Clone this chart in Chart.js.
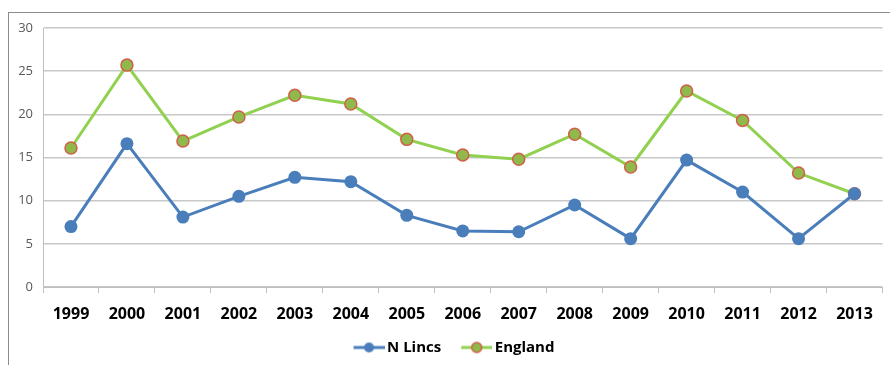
<!DOCTYPE html>
<html>
<head>
<meta charset="utf-8">
<script src="https://cdn.jsdelivr.net/npm/chart.js@4"></script>
<style>
  body { margin: 0; background: #fff; }
  #wrap { position: relative; width: 890px; height: 365px; }
  #frame { position: absolute; left: 8px; top: 12px; right: 0; bottom: 0;
    border-top: 1px solid #8c8c8c; border-left: 1px solid #8c8c8c; pointer-events: none; }
</style>
</head>
<body>
<div id="wrap">
  <canvas id="lineChart" width="890" height="365"></canvas>
  <div id="frame"></div>
</div>
<script>
(() => {
  'use strict'

  const years = ['1999', '2000', '2001', '2002', '2003', '2004', '2005', '2006',
    '2007', '2008', '2009', '2010', '2011', '2012', '2013']
  const nLincs = [7.0, 16.6, 8.1, 10.5, 12.7, 12.2, 8.3, 6.5, 6.4, 9.5, 5.6, 14.7, 11.0, 5.6, 10.8]
  const england = [16.1, 25.7, 16.9, 19.7, 22.2, 21.2, 17.1, 15.3, 14.8, 17.7, 13.9, 22.7, 19.3, 13.2, 10.8]
  const yTicks = [0, 5, 10, 15, 20, 25, 30]

  const blue = '#4a7ebb'
  const green = '#92d050'
  const dotGreen = '#8fb94b'
  const dotRed = '#d0604a'

  // line + marker swatch for the legend (transparent margin on the left)
  function swatch (line, fill, stroke) {
    const c = document.createElement('canvas')
    c.width = 46
    c.height = 14
    const g = c.getContext('2d')
    g.strokeStyle = line
    g.lineWidth = 3
    g.beginPath()
    g.moveTo(15, 7)
    g.lineTo(46, 7)
    g.stroke()
    g.fillStyle = fill
    g.beginPath()
    g.arc(30.5, 7, 5, 0, Math.PI * 2)
    g.fill()
    if (stroke) {
      g.strokeStyle = stroke
      g.lineWidth = 1.5
      g.stroke()
    }
    return c
  }
  const swatches = [swatch(blue, blue), swatch(green, dotGreen, dotRed)]

  const ctx = document.getElementById('lineChart')
  // eslint-disable-next-line no-unused-vars
  const lineChart = new Chart(ctx, {
    type: 'line',
    data: {
      labels: years,
      datasets: [
        {
          label: 'N Lincs',
          data: nLincs,
          borderColor: blue,
          backgroundColor: blue,
          borderWidth: 3,
          pointRadius: 6.5,
          pointBackgroundColor: blue,
          pointBorderColor: blue,
          pointBorderWidth: 0,
          tension: 0
        },
        {
          label: 'England',
          data: england,
          borderColor: green,
          backgroundColor: green,
          borderWidth: 3,
          pointRadius: 6,
          pointBackgroundColor: dotGreen,
          pointBorderColor: dotRed,
          pointBorderWidth: 1.5,
          tension: 0
        }
      ]
    },
    options: {
      responsive: false,
      animation: false,
      layout: { padding: { top: 28, right: 4, bottom: 0, left: 12 } },
      plugins: {
        tooltip: { enabled: false },
        legend: {
          display: true,
          position: 'bottom',
          labels: {
            usePointStyle: true,
            pointStyleWidth: 36,
            padding: 10,
            color: '#000',
            font: { family: 'Open Sans', size: 15, weight: 'bold' },
            generateLabels: (chart) => {
              const items = Chart.defaults.plugins.legend.labels.generateLabels(chart)
              items.forEach((it, i) => { it.pointStyle = swatches[i] })
              return items
            }
          }
        }
      },
      scales: {
        x: {
          offset: true,
          grid: {
            offset: true,
            drawOnChartArea: false,
            drawTicks: true,
            tickLength: 6,
            color: '#bfbfbf'
          },
          border: { color: '#bfbfbf', width: 1 },
          ticks: {
            color: '#000',
            padding: 12,
            maxRotation: 0,
            font: { family: 'Open Sans', size: 16, weight: 'bold' }
          },
          afterFit: (axis) => { axis.height = 43 }
        },
        y: {
          min: 0,
          max: 30,
          afterBuildTicks: (axis) => { axis.ticks = yTicks.map(v => ({ value: v })) },
          grid: {
            color: '#c8c8c8',
            lineWidth: 1.5,
            drawTicks: false
          },
          border: { color: '#bfbfbf', width: 1 },
          ticks: {
            color: '#595959',
            padding: 10,
            font: { family: 'Open Sans', size: 13 }
          },
          afterFit: (axis) => { axis.width = 31 }
        }
      }
    }
  })
})()
</script>
</body>
</html>
